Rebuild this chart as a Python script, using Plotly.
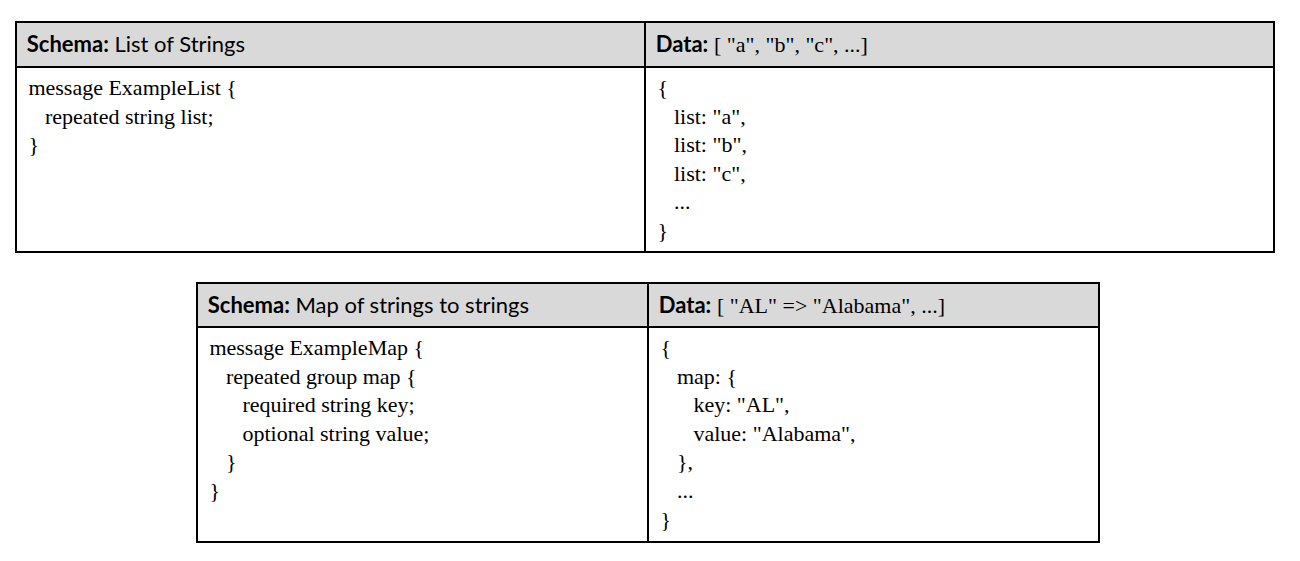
import plotly.graph_objects as go

# the page body has an 8px margin, so the figure is drawn 8px in and made that much smaller
PAGE_OFF = 8
W, H = 1300 - PAGE_OFF, 561 - PAGE_OFF
NB = "\u00a0"
LEAD = "\u2009"  # small lead-in so text sits a little further from the left border
SERIF = "font-family:Liberation Serif;font-size:22px"

# --- table contents ---
list_headers = ["<b>Schema:</b> List of Strings",
                "<b>Data:</b> <span style='" + SERIF + "'>[ \"a\", \"b\", \"c\", ...]</span>"]
list_schema = ["message ExampleList {",
               NB * 3 + "repeated string list;",
               "}"]
list_data = ["{",
             NB * 3 + "list: \"a\",",
             NB * 3 + "list: \"b\",",
             NB * 3 + "list: \"c\",",
             NB * 3 + "...",
             "}"]

map_headers = ["<b>Schema:</b> Map of strings to strings",
               "<b>Data:</b> <span style='" + SERIF + "'>[ \"AL\" =&gt; \"Alabama\", ...]</span>"]
map_schema = ["message ExampleMap {",
              NB * 3 + "repeated group map {",
              NB * 6 + "required string key;",
              NB * 6 + "optional string value;",
              NB * 3 + "}",
              "}"]
map_data = ["{",
            NB * 3 + "map: {",
            NB * 6 + "key: \"AL\",",
            NB * 6 + "value: \"Alabama\",",
            NB * 3 + "},",
            NB * 3 + "...",
            "}"]

HEADER_FILL = "#d9d9d9"


def make_table(headers, schema, data, box, header_h, cell_h):
    x0, y0, x1, y1 = [v - PAGE_OFF for v in box]
    y1 += 4  # room below so the bottom border isn't clipped
    return go.Table(
        domain=dict(x=[x0 / W, x1 / W], y=[1 - y1 / H, 1 - y0 / H]),
        columnwidth=[1, 1],
        header=dict(
            # trailing <br> stops the table from auto-wrapping the header text
            values=[LEAD + h + "<br>" for h in headers],
            fill_color=HEADER_FILL,
            line=dict(color="black", width=2),
            align="left",
            height=header_h,
            font=dict(family="Lato", size=22, color="black"),
        ),
        cells=dict(
            values=[["<br>".join(LEAD + s for s in schema)],
                    ["<br>".join(LEAD + s for s in data)]],
            fill_color="white",
            line=dict(color="black", width=2),
            align="left",
            height=cell_h,
            font=dict(family="Liberation Serif", size=22, color="black"),
        ),
    )


fig = go.Figure()
fig.add_trace(make_table(list_headers, list_schema, list_data, (16, 22, 1274, 252), 45, 185))
fig.add_trace(make_table(map_headers, map_schema, map_data, (197, 283, 1099, 542), 44, 215))

fig.update_layout(
    width=W, height=H,
    margin=dict(l=0, r=0, t=0, b=0),
    paper_bgcolor="white",
)

fig.write_html("out.html")
